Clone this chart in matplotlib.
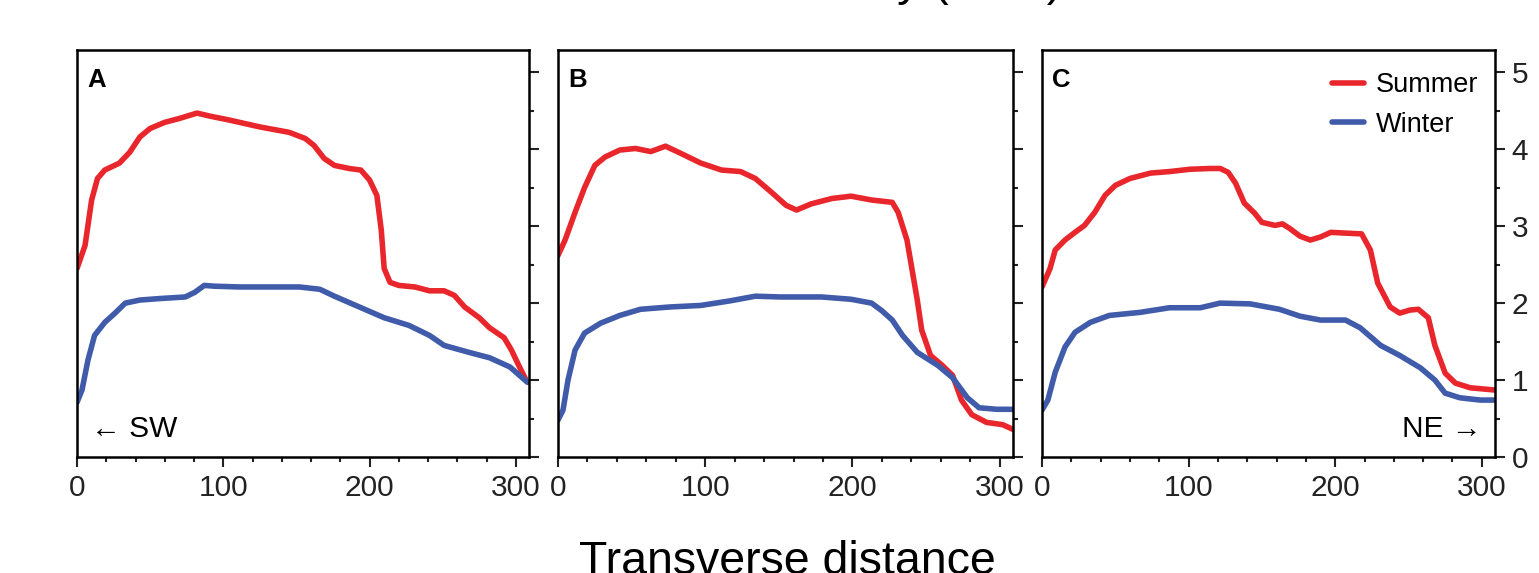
import numpy as np
import matplotlib.pyplot as plt
from matplotlib.ticker import MultipleLocator

plt.rcParams['font.family'] = ['Liberation Sans', 'DejaVu Sans']

# panel A
a_sum_x = [0, 5.5, 10, 14, 19, 29, 36, 43, 50, 60, 70, 82, 91, 104, 125, 145, 156, 162, 169, 176,
           186, 194, 200, 205, 208, 210, 214, 220, 231, 241, 251, 258, 265, 275, 282, 292, 297, 302, 307]
a_sum_y = [2.45, 2.75, 3.34, 3.62, 3.73, 3.82, 3.96, 4.16, 4.27, 4.35, 4.40, 4.47, 4.43, 4.38, 4.29,
           4.22, 4.14, 4.05, 3.88, 3.79, 3.75, 3.73, 3.60, 3.40, 2.95, 2.45, 2.27, 2.23, 2.21, 2.16,
           2.16, 2.10, 1.95, 1.81, 1.68, 1.55, 1.39, 1.19, 1.0]
a_win_x = [0, 3.4, 7.5, 12, 19, 26, 33, 43, 57, 74, 80.5, 87, 94, 111, 132, 152, 166, 176, 193, 210,
           227, 241, 251, 268, 282, 296, 308]
a_win_y = [0.71, 0.87, 1.26, 1.58, 1.75, 1.87, 2.0, 2.04, 2.06, 2.08, 2.14, 2.23, 2.22, 2.21, 2.21,
           2.21, 2.18, 2.09, 1.95, 1.81, 1.71, 1.58, 1.45, 1.36, 1.29, 1.17, 0.97]

# panel B
b_sum_x = [0, 4.8, 11.6, 18, 25, 32, 42, 52.6, 63, 73, 83, 97, 111, 124, 134, 145, 155, 162, 172,
           186, 199, 213, 227, 231, 237, 244, 247, 253, 261, 268, 274, 281, 291, 302, 310]
b_sum_y = [2.62, 2.82, 3.18, 3.5, 3.79, 3.9, 3.99, 4.01, 3.97, 4.04, 3.95, 3.82, 3.73, 3.71, 3.62,
           3.44, 3.27, 3.21, 3.29, 3.36, 3.39, 3.34, 3.31, 3.18, 2.82, 2.04, 1.65, 1.32, 1.19, 1.06,
           0.74, 0.55, 0.45, 0.42, 0.35]
b_win_x = [0, 3.4, 6.8, 11.6, 18, 29, 42, 56, 76, 97, 117, 134, 151, 179, 199, 213, 220, 227, 234,
           244, 258, 268, 278, 286, 298, 310]
b_win_y = [0.48, 0.61, 1.0, 1.39, 1.61, 1.74, 1.84, 1.92, 1.95, 1.97, 2.03, 2.09, 2.08, 2.08, 2.05,
           2.0, 1.9, 1.78, 1.58, 1.36, 1.19, 1.03, 0.77, 0.64, 0.62, 0.62]

# panel C
c_sum_x = [0, 5.5, 9, 15.7, 22.5, 29, 36, 43, 50, 60, 74, 87, 101, 114.5, 121.5, 127, 132, 138, 145,
           150, 159, 164, 169, 176, 183, 190, 197, 207, 218, 224, 229, 237.5, 244, 251, 256.7, 263.5,
           268, 275, 282, 292, 309]
c_sum_y = [2.21, 2.45, 2.69, 2.82, 2.92, 3.01, 3.18, 3.40, 3.53, 3.62, 3.69, 3.71, 3.74, 3.75, 3.75,
           3.70, 3.56, 3.30, 3.17, 3.05, 3.01, 3.03, 2.97, 2.87, 2.82, 2.86, 2.92, 2.91, 2.90, 2.69,
           2.26, 1.95, 1.87, 1.91, 1.92, 1.81, 1.45, 1.09, 0.96, 0.90, 0.87]
c_win_x = [0, 4, 9, 15.7, 22.5, 33, 46, 67, 87, 108, 121.5, 142, 162, 176, 190, 207, 217, 231, 244,
           258, 268, 275, 285, 299, 309]
c_win_y = [0.61, 0.74, 1.10, 1.43, 1.62, 1.75, 1.84, 1.88, 1.94, 1.94, 2.0, 1.99, 1.92, 1.83, 1.78,
           1.78, 1.68, 1.45, 1.32, 1.16, 1.0, 0.83, 0.77, 0.74, 0.74]

panels = ["A", "B", "C"]
summer = [(a_sum_x, a_sum_y), (b_sum_x, b_sum_y), (c_sum_x, c_sum_y)]
winter = [(a_win_x, a_win_y), (b_win_x, b_win_y), (c_win_x, c_win_y)]

red = "#e8262b"
blue = "#3f5ba9"

fig = plt.figure(figsize=(15.39, 5.73), dpi=100)
lefts = [77, 558, 1042]
widths = [452, 455, 453]

for i, name in enumerate(panels):
    ax = fig.add_axes([lefts[i] / 1539, 116 / 573, widths[i] / 1539, 407 / 573])
    ax.plot(*summer[i], color=red, lw=4.0, solid_joinstyle='round', solid_capstyle='round',
            label="Summer")
    ax.plot(*winter[i], color=blue, lw=4.0, solid_joinstyle='round', solid_capstyle='round',
            label="Winter")
    ax.set_xlim(0, 309)
    ax.set_ylim(0, 5.29)
    for s in ax.spines.values():
        s.set_linewidth(1.8)
    ax.xaxis.set_major_locator(MultipleLocator(100))
    ax.xaxis.set_minor_locator(MultipleLocator(20))
    ax.yaxis.set_major_locator(MultipleLocator(1))
    ax.yaxis.set_minor_locator(MultipleLocator(0.5))
    ax.yaxis.tick_right()
    ax.tick_params(which='both', direction='out', width=1.5, colors='#222222', labelsize=21.5)
    ax.tick_params(which='major', length=7)
    ax.tick_params(which='minor', length=3.5)
    ax.tick_params(axis='x', pad=5)
    ax.tick_params(axis='y', pad=5)
    if i < 2:
        ax.tick_params(axis='y', labelright=False)
    ax.text(0.022, 0.955, name, transform=ax.transAxes, fontsize=18.5, fontweight='bold',
            ha='left', va='top')
    if i == 0:
        ax.text(0.03, 0.035, "\u2190 SW", transform=ax.transAxes, fontsize=21.5, ha='left', va='bottom')
    if i == 2:
        ax.text(0.97, 0.035, "NE \u2192", transform=ax.transAxes, fontsize=21.5, ha='right', va='bottom')
        ax.legend(loc='upper right', frameon=False, fontsize=19.5, handlelength=1.2,
                  handletextpad=0.45, labelspacing=0.5, borderaxespad=0.2,
                  bbox_to_anchor=(1.0, 0.985))

fig.text(787 / 1539, -1 / 573, "Transverse distance", fontsize=33.5, ha='center', va='baseline')
fig.text(1062 / 1539, 1 + 5 / 573, "Velocity (cm/s)", fontsize=33.5, ha='right', va='baseline')

fig.savefig("out.png", dpi=100)
